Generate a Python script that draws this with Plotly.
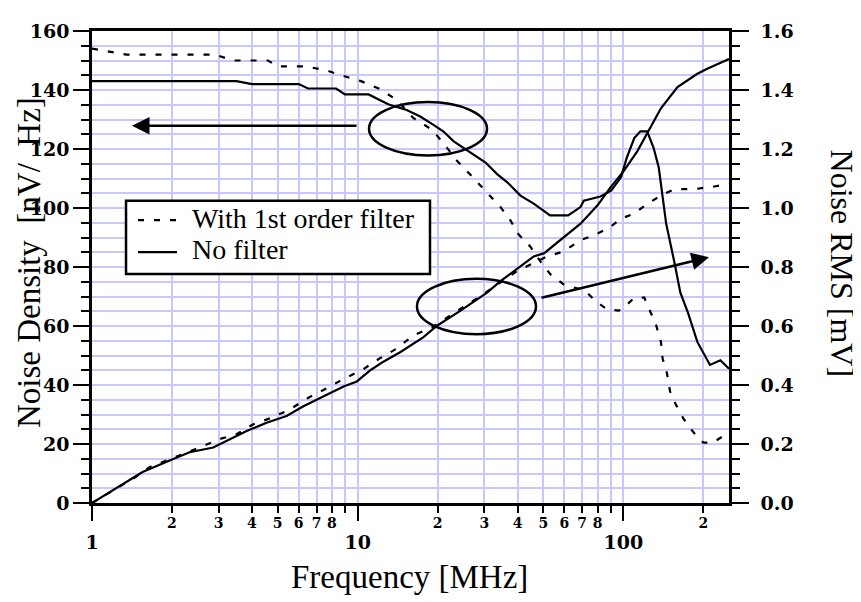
import math
import plotly.graph_objects as go

# ---------------- data ----------------
# Noise density, no filter [nV/sqrt(Hz)]
freq_density_nf = [1, 3.5, 4.0, 6.0, 6.5, 8.3, 8.95, 11, 12.1, 13.1, 15.3, 17.2, 19.3, 21, 23, 25,
                   27.3, 30.3, 33.5, 36.6, 41, 46, 53, 62, 69, 71, 82, 90, 98, 103, 110, 116, 123,
                   130, 136, 142, 145, 156, 164, 175, 190, 212, 232, 250]
density_nf = [143, 143, 142, 142, 140.5, 140.5, 138.5, 138.5, 136.6, 135.1, 133.2, 131, 128.2, 126,
              122.6, 120.4, 118.2, 115.4, 111.5, 108.7, 104.2, 101.5, 97.5, 97.5, 100.3, 102.5, 103.9,
              105.9, 110.4, 117, 123.7, 126, 126, 120.4, 113.7, 101.4, 94.7, 81.3, 71.3, 64.6, 54.6,
              46.8, 48.4, 45.5]

# Noise density, with 1st order filter
freq_density_f = [1, 1.35, 2.9, 3.4, 4.6, 5.0, 6.4, 7.65, 8.8, 10.3, 12, 14.06, 16.2, 19.1, 21.7, 23.7,
                  27, 30.3, 34.5, 37.6, 40.4, 44.7, 48.8, 53.3, 59.7, 72, 78.5, 86.7, 96.2, 104, 110,
                  120, 125, 133, 138.6, 140.6, 146, 150, 157.5, 169, 184, 200, 218, 242, 250]
density_f = [154, 152, 152, 150, 150, 148, 148, 146.6, 144.8, 143, 140.5, 136.6, 130.5, 126.5, 120.4,
             115.9, 110.6, 105.9, 100.3, 95.8, 91, 86.9, 81.8, 77.4, 74.1, 71.9, 68.5, 65.7, 65.2, 67.5,
             69.6, 69.6, 65.7, 60.2, 54.6, 49, 44, 37.8, 33.5, 28.4, 23.9, 20.5, 20.5, 23.4, 24]

# Noise RMS, no filter [mV]
freq_rms_nf = [1, 1.22, 1.55, 1.96, 2.33, 2.86, 3.3, 3.82, 4.54, 5.4, 6.25, 7.44, 8.85, 9.93, 11.2,
               12.5, 14.5, 17.7, 19.9, 24.4, 30.7, 34.5, 41, 46, 50.4, 58, 61.5, 69, 73, 80, 89.5,
               100.5, 113, 123, 138.6, 160, 190, 207, 250]
rms_nf = [0, 0.049, 0.105, 0.144, 0.172, 0.188, 0.217, 0.244, 0.272, 0.295, 0.328, 0.362, 0.395, 0.412,
          0.451, 0.479, 0.512, 0.562, 0.601, 0.652, 0.713, 0.752, 0.802, 0.836, 0.847, 0.891, 0.908,
          0.947, 0.97, 1.009, 1.07, 1.126, 1.193, 1.254, 1.338, 1.41, 1.455, 1.472, 1.505]

# Noise RMS, with 1st order filter
freq_rms_f = [1, 1.43, 1.65, 1.91, 2.54, 3.03, 3.5, 4.05, 4.74, 5.55, 6.5, 7.65, 8.95, 10.4, 12, 14,
              16.2, 19.1, 22.3, 26.1, 30.3, 39.8, 44.8, 51.7, 59.7, 69, 77.7, 89.6, 98, 110, 123,
              138.6, 155.7, 185, 220, 250]
rms_f = [0, 0.083, 0.122, 0.144, 0.188, 0.217, 0.233, 0.267, 0.289, 0.317, 0.356, 0.389, 0.423, 0.451,
         0.488, 0.523, 0.568, 0.596, 0.635, 0.674, 0.713, 0.786, 0.808, 0.836, 0.853, 0.891, 0.908,
         0.936, 0.964, 0.981, 1.014, 1.042, 1.064, 1.064, 1.073, 1.081]

x_major_ticks = [1, 10, 100]
x_major_labels = ["1", "10", "100"]
x_minor_ticks = [2, 3, 4, 5, 6, 7, 8, 9, 20, 30, 40, 50, 60, 70, 80, 90, 200]
x_minor_labels = ["2", "3", "4", "5", "6", "7", "8", "", "2", "3", "4", "5", "6", "7", "8", "", "2"]

legend_names = ["With 1st order filter", "No filter"]

# ---------------- styling ----------------
GRID = "#c8c8ff"
TXT = "Liberation Serif"
TICKFONT = dict(family="DejaVu Serif", size=19, color="black", weight="bold")
DASH = "6px,10px"
LW = 2.2

fig = go.Figure()
fig.add_trace(go.Scatter(x=freq_density_f, y=density_f, mode="lines", name=legend_names[0],
                         showlegend=False, line=dict(color="black", width=LW, dash=DASH)))
fig.add_trace(go.Scatter(x=freq_density_nf, y=density_nf, mode="lines", name=legend_names[1],
                         showlegend=False, line=dict(color="black", width=LW)))
fig.add_trace(go.Scatter(x=freq_rms_f, y=rms_f, mode="lines", yaxis="y2", showlegend=False,
                         name=legend_names[0] + " (RMS)", line=dict(color="black", width=LW, dash=DASH)))
fig.add_trace(go.Scatter(x=freq_rms_nf, y=rms_nf, mode="lines", yaxis="y2", showlegend=False,
                         name=legend_names[1] + " (RMS)", line=dict(color="black", width=LW)))
# carrier for the small minor-tick labels axis
fig.add_trace(go.Scatter(x=[None], y=[None], xaxis="x2", mode="lines", showlegend=False, hoverinfo="skip"))

xr = [0, math.log10(250)]

# page has an 8px body margin: figure is 853x594 so that it ends at the window edge
fig.update_layout(
    width=853, height=594,
    margin=dict(l=84, r=132, t=17, b=99),
    plot_bgcolor="white", paper_bgcolor="white",
    showlegend=False,
    xaxis=dict(type="log", range=xr, tickmode="array", tickvals=x_major_ticks, ticktext=x_major_labels,
               ticks="outside", ticklen=15, tickwidth=2, tickcolor="black",
               showline=True, linewidth=2.5, linecolor="black", mirror=True,
               showgrid=True, gridcolor=GRID, gridwidth=1.5, zeroline=False,
               tickfont=TICKFONT, ticklabelstandoff=5,
               minor=dict(tickvals=x_minor_ticks, ticks="outside", ticklen=7, tickwidth=2,
                          tickcolor="black", showgrid=True, gridcolor=GRID, gridwidth=1.5)),
    xaxis2=dict(type="log", range=xr, overlaying="x", anchor="y", side="bottom",
                tickmode="array", tickvals=x_minor_ticks, ticktext=x_minor_labels,
                ticks="", showline=False, showgrid=False, zeroline=False,
                tickfont=dict(family="DejaVu Serif", size=14, color="black", weight="bold"),
                ticklabelstandoff=10),
    yaxis=dict(range=[0, 160], tickmode="linear", tick0=0, dtick=20,
               ticks="outside", ticklen=16, tickwidth=2, tickcolor="black",
               showline=True, linewidth=2.5, linecolor="black",
               showgrid=True, gridcolor=GRID, gridwidth=1.5, zeroline=False,
               tickfont=TICKFONT,
               minor=dict(dtick=5, ticks="outside", ticklen=8, tickwidth=2, tickcolor="black",
                          showgrid=True, gridcolor=GRID, gridwidth=1.5)),
    yaxis2=dict(range=[0, 1.6], overlaying="y", side="right", anchor="x",
                tickmode="linear", tick0=0, dtick=0.2, tickformat=".1f",
                ticks="outside", ticklen=17, tickwidth=2, tickcolor="black",
                showline=True, linewidth=2.5, linecolor="black",
                showgrid=False, zeroline=False, tickfont=TICKFONT, ticklabelstandoff=8,
                minor=dict(dtick=0.05, ticks="outside", ticklen=8, tickwidth=2, tickcolor="black",
                           showgrid=False)),
)

annotations = [
    dict(text="Frequency [MHz]", x=0.4992, y=-0.157, xref="paper", yref="paper", showarrow=False,
         xanchor="center", yanchor="middle", font=dict(family=TXT, size=33, color="black")),
    dict(text="Noise Density  [nV/  Hz]", x=-0.0989, y=0.5084, xref="paper", yref="paper",
         showarrow=False, textangle=-90, xanchor="center", yanchor="middle",
         font=dict(family=TXT, size=33, color="black")),
    dict(text="Noise RMS [mV]", x=1.1774, y=0.5073, xref="paper", yref="paper",
         showarrow=False, textangle=90, xanchor="center", yanchor="middle",
         font=dict(family=TXT, size=32, color="black")),
    # left-pointing arrow (density -> left axis)
    dict(text="", x=0.0628, y=0.799, xref="paper", yref="paper", showarrow=True,
         ax=226, ay=0, arrowhead=2, arrowsize=1.4, arrowwidth=2.5, arrowcolor="black"),
    # right-pointing arrow (RMS -> right axis)
    dict(text="", x=0.9686, y=0.5209, xref="paper", yref="paper", showarrow=True,
         ax=-169, ay=41, arrowhead=2, arrowsize=1.4, arrowwidth=2.5, arrowcolor="black"),
    # legend texts
    dict(text=legend_names[0], x=0.1538, y=0.6036, xref="paper", yref="paper", showarrow=False,
         xanchor="left", yanchor="middle", font=dict(family=TXT, size=28, color="black")),
    dict(text=legend_names[1], x=0.1538, y=0.5377, xref="paper", yref="paper", showarrow=False,
         xanchor="left", yanchor="middle", font=dict(family=TXT, size=28, color="black")),
]
fig.update_layout(annotations=annotations)

shapes = [
    # ellipses
    dict(type="circle", xref="paper", yref="paper", x0=0.4349, x1=0.6201, y0=0.7364, y1=0.8494,
         line=dict(color="black", width=2.5)),
    dict(type="circle", xref="paper", yref="paper", x0=0.5102, x1=0.6970, y0=0.3577, y1=0.4749,
         line=dict(color="black", width=2.5)),
    # legend box and samples
    dict(type="rect", xref="paper", yref="paper", x0=0.0534, x1=0.5306, y0=0.4854, y1=0.6402,
         line=dict(color="black", width=2.5), fillcolor="white", layer="above"),
    dict(type="line", xref="paper", yref="paper", x0=0.0722, x1=0.1334, y0=0.5994, y1=0.5994,
         line=dict(color="black", width=LW, dash=DASH)),
    dict(type="line", xref="paper", yref="paper", x0=0.0722, x1=0.1334, y0=0.5314, y1=0.5314,
         line=dict(color="black", width=LW)),
]
fig.update_layout(shapes=shapes)

fig.write_html("out.html")
